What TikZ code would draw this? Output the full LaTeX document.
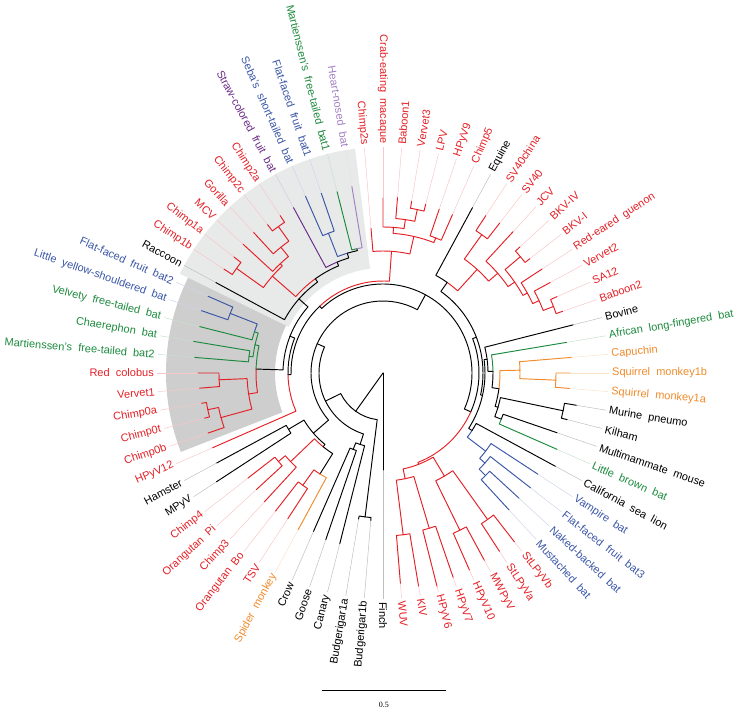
\documentclass[tikz,border=0pt]{standalone}
\usepackage{fontspec}
\setmainfont{Liberation Sans}
\newfontfamily\barfont{Liberation Serif}
\definecolor{cred}{RGB}{228,32,38}
\definecolor{cblue}{RGB}{58,86,166}
\definecolor{cgreen}{RGB}{28,138,62}
\definecolor{corange}{RGB}{240,138,42}
\definecolor{cpurple}{RGB}{106,42,134}
\definecolor{clpurple}{RGB}{162,128,196}
\definecolor{shadelight}{RGB}{232,233,233}
\definecolor{shadedark}{RGB}{206,206,206}
\newcommand\wsp{\hspace{0.56em}}
\newcommand\nd[3]{\expandafter\edef\csname na@#1\endcsname{#2}\expandafter\edef\csname nr@#1\endcsname{#3}}
\newcommand\NA[1]{\csname na@#1\endcsname}
\newcommand\NR[1]{\csname nr@#1\endcsname}
\newcommand\br[3][black]{%
  \edef\bpa{\NA{#2}}\edef\bpr{\NR{#2}}\edef\bca{\NA{#3}}\edef\bcr{\NR{#3}}%
  \ifdim\bpr pt=0pt
    \draw[branch,#1] (0pt,0pt) -- (\bca:\bcr pt);%
  \else
    \draw[branch,#1] (\bpa:\bpr pt) arc[start angle=\bpa,end angle=\bca,radius=\bpr pt] -- (\bca:\bcr pt);%
  \fi}
\newcommand\leaf[6]{%
  \pgfmathsetmacro\la{90-(#2-2)*4.7368421}%
  \ifnum#2>40 \pgfmathsetmacro\la{\la+360}\fi
  \nd{#1}{\la}{#3}%
  \draw[faint,#5!25] (\la:#3pt) -- (\la:226pt);%
  \br[#5]{#4}{#1}%
  \ifdim\la pt>89.99pt
    \node[lab,text=#5,rotate=\la+180,anchor=east] (#1) at (\la:229pt) {#6};%
  \else
    \node[lab,text=#5,rotate=\la,anchor=west] (#1) at (\la:229pt) {#6};%
  \fi}
\tikzset{
  branch/.style={line width=0.95pt,line cap=round,line join=round},
  faint/.style={line width=0.5pt},
  lab/.style={font=\fontsize{11}{13}\selectfont,inner sep=0pt}
}
\begin{document}
\begin{tikzpicture}
\useasboundingbox (-383pt,-339pt) rectangle (356pt,373pt);
% shaded clades
\fill[shadelight] (97.1:105pt) arc[start angle=97.1,end angle=153.95,radius=105pt] -- (153.95:226pt) arc[start angle=153.95,end angle=97.1,radius=226pt] -- cycle;
\fill[shadedark] (153.95:108pt) arc[start angle=153.95,end angle=201.32,radius=108pt] -- (201.32:217pt) arc[start angle=201.32,end angle=153.95,radius=217pt] -- cycle;
% internal nodes: angle, radius
\nd{root}{270}{0}
\nd{N1}{234.45}{47}
\nd{N2}{206}{64}
\nd{C1}{156}{72}
\nd{B3}{252.24}{75}
\nd{GC}{248.68}{82}
\nd{BUD}{262.9}{145}
\nd{UP}{61.5}{89}
\nd{LL2}{220.86}{92}
\nd{MH}{210.79}{110}
\nd{L3}{230.92}{95}
\nd{C3P}{223.82}{128}
\nd{CP}{220.26}{137}
\nd{SPR}{238.03}{119}
\nd{R2}{234.48}{138}
\nd{XP}{133.5}{92}
\nd{S1}{181.04}{95}
\nd{DL}{158.4}{100}
\nd{LIGHT}{138.6}{112}
\nd{RS}{125.7}{116}
\nd{REDL}{138.8}{147}
\nd{C1b}{144.47}{180}
\nd{MGC}{133.2}{150}
\nd{GC2}{129.08}{162}
\nd{C2}{125.53}{180}
\nd{SBMH}{112.5}{120}
\nd{BMH}{106.6}{125}
\nd{SF}{111.32}{150}
\nd{MH2}{101.84}{127}
\nd{DARK}{178.22}{127}
\nd{V2}{167.57}{131}
\nd{V1}{162.24}{135}
\nd{BB2}{158.69}{164}
\nd{CM}{172.9}{135}
\nd{RED0}{188.88}{136}
\nd{RV}{182.37}{164}
\nd{C0}{195.39}{168}
\nd{C0at}{191.84}{179}
\nd{X}{86.0}{122}
\nd{W}{77.27}{140}
\nd{Y1}{85.86}{146}
\nd{Y2}{81.71}{155}
\nd{Y3}{78.16}{167}
\nd{V}{68.68}{145}
\nd{Q}{-23.86}{96}
\nd{EAC}{20.97}{100}
\nd{E1}{54.66}{111}
\nd{S}{47.74}{140}
\nd{SV}{54.47}{170}
\nd{T}{41.0}{152}
\nd{U}{34.63}{160}
\nd{BK}{40.26}{180}
\nd{G1}{29.01}{165}
\nd{G2}{24.87}{172}
\nd{G3}{21.32}{183}
\nd{AC}{-12.65}{102}
\nd{A1}{7.55}{105}
\nd{A2}{0.89}{110}
\nd{A3}{-7.7}{117}
\nd{O}{1.18}{137}
\nd{Sq}{-2.37}{173}
\nd{B}{-16.58}{120}
\nd{MK}{-11.84}{184}
\nd{MM}{-21.32}{127}
\nd{CB}{-32.86}{106}
\nd{BL1}{-37.3}{129}
\nd{BL2}{-41.45}{136}
\nd{BL3}{-45.0}{145}
\nd{H0}{-68.68}{98}
\nd{HL}{-78.15}{108}
\nd{WK}{-82.9}{163}
\nd{H67}{-73.42}{162}
\nd{HR}{-59.21}{120}
\nd{HM}{-63.95}{175}
\nd{St}{-54.47}{180}
% internal branches
\br{root}{N1}
\br{N1}{N2} \br{N1}{BUD}
\br{N2}{C1} \br{N2}{B3} \br{B3}{GC}
\br{C1}{UP} \br{C1}{LL2}
\br{LL2}{MH} \br{LL2}{L3} \br[cred]{L3}{C3P} \br{L3}{SPR} \br[cred]{C3P}{CP} \br[cred]{SPR}{R2}
\br{UP}{XP} \br{UP}{Q}
\br[cred]{XP}{X} \br{XP}{S1}
\br{S1}{DL} \br{DL}{LIGHT} \br{DL}{DARK}
\br{LIGHT}{RS} \br[cred]{RS}{REDL} \br{RS}{SBMH}
\br[cred]{REDL}{C1b} \br[cred]{REDL}{MGC} \br[cred]{MGC}{GC2} \br[cred]{GC2}{C2}
\br{SBMH}{BMH} \br[cblue]{BMH}{SF} \br{BMH}{MH2}
\br[cgreen]{DARK}{V2} \br[cred]{DARK}{RED0}
\br[cgreen]{V2}{V1} \br[cgreen]{V2}{CM} \br[cblue]{V1}{BB2}
\br[cred]{RED0}{RV} \br[cred]{RED0}{C0} \br[cred]{C0}{C0at}
\br[cred]{X}{W} \br[cred]{W}{Y1} \br[cred]{W}{V} \br[cred]{Y1}{Y2} \br[cred]{Y2}{Y3}
\br{Q}{EAC} \br[cred]{Q}{H0}
\br{EAC}{E1} \br{EAC}{AC}
\br[cred]{E1}{S} \br[cred]{S}{SV} \br[cred]{S}{T} \br[cred]{T}{U} \br[cred]{U}{BK} \br[cred]{U}{G1} \br[cred]{G1}{G2} \br[cred]{G2}{G3}
\br{AC}{A1} \br{AC}{CB} \br{A1}{A2} \br{A2}{A3} \br[corange]{A3}{O} \br{A3}{B} \br[corange]{O}{Sq} \br{B}{MK} \br{B}{MM}
\br[cblue]{CB}{BL1} \br[cblue]{BL1}{BL2} \br[cblue]{BL2}{BL3}
\br[cred]{H0}{HL} \br[cred]{H0}{HR} \br[cred]{HL}{WK} \br[cred]{HL}{H67} \br[cred]{HR}{HM} \br[cred]{HR}{St}
% leaves: name, index, tip radius, parent, colour, label
\leaf{chimpIIs}{1}{145}{X}{cred}{Chimp2s}
\leaf{macaque}{2}{175}{Y1}{cred}{Crab-eating\wsp macaque}
\leaf{baboonI}{3}{176}{Y2}{cred}{Baboon1}
\leaf{vervetIII}{4}{174}{Y3}{cred}{Vervet3}
\leaf{lpv}{5}{174}{Y3}{cred}{LPV}
\leaf{hpyvIX}{6}{173}{V}{cred}{HPyV9}
\leaf{chimpV}{7}{173}{V}{cred}{Chimp5}
\leaf{equine}{8}{188}{E1}{black}{Equine}
\leaf{svchina}{9}{188}{SV}{cred}{SV40china}
\leaf{sv}{10}{190}{SV}{cred}{SV40}
\leaf{jcv}{11}{192}{T}{cred}{JCV}
\leaf{bkvIV}{12}{186}{BK}{cred}{BKV-IV}
\leaf{bkvI}{13}{186}{BK}{cred}{BKV-I}
\leaf{guenon}{14}{190}{G1}{cred}{Red-eared\wsp guenon}
\leaf{vervetII}{15}{190}{G2}{cred}{Vervet2}
\leaf{saXII}{16}{190}{G3}{cred}{SA12}
\leaf{baboonII}{17}{190}{G3}{cred}{Baboon2}
\leaf{bovine}{18}{196}{A1}{black}{Bovine}
\leaf{african}{19}{186}{A2}{cgreen}{African\wsp long-fingered\wsp bat}
\leaf{capuchin}{20}{189}{O}{corange}{Capuchin}
\leaf{sqIb}{21}{187}{Sq}{corange}{Squirrel\wsp monkey1b}
\leaf{sqIa}{22}{187}{Sq}{corange}{Squirrel\wsp monkey1a}
\leaf{murine}{23}{196}{MK}{black}{Murine\wsp pneumo}
\leaf{kilham}{24}{190}{MK}{black}{Kilham}
\leaf{multimam}{25}{184}{MM}{black}{Multimammate\wsp mouse}
\leaf{littlebrown}{26}{190}{MM}{cgreen}{Little\wsp brown\wsp bat}
\leaf{sealion}{27}{196}{CB}{black}{California\wsp sea\wsp lion}
\leaf{vampire}{28}{185}{BL1}{cblue}{Vampire\wsp bat}
\leaf{ffIII}{29}{187}{BL2}{cblue}{Flat-faced\wsp fruit\wsp bat3}
\leaf{naked}{30}{185}{BL3}{cblue}{Naked-backed\wsp bat}
\leaf{mustached}{31}{186}{BL3}{cblue}{Mustached\wsp bat}
\leaf{stlb}{32}{214}{St}{cred}{StLPyVb}
\leaf{stla}{33}{213}{St}{cred}{StLPyVa}
\leaf{mwpyv}{34}{213}{HM}{cred}{MWPyV}
\leaf{hpyvX}{35}{215}{HM}{cred}{HPyV10}
\leaf{hpyvVII}{36}{216}{H67}{cred}{HPyV7}
\leaf{hpyvVI}{37}{220}{H67}{cred}{HPyV6}
\leaf{kiv}{38}{216}{WK}{cred}{KIV}
\leaf{wuv}{39}{211}{WK}{cred}{WUV}
\leaf{finch}{40}{97}{root}{black}{Finch}
\leaf{budIb}{41}{148}{BUD}{black}{Budgerigar1b}
\leaf{budIa}{42}{148}{BUD}{black}{Budgerigar1a}
\leaf{canary}{43}{176}{B3}{black}{Canary}
\leaf{goose}{44}{176}{GC}{black}{Goose}
\leaf{crow}{45}{173}{GC}{black}{Crow}
\leaf{spider}{46}{178}{SPR}{corange}{Spider\wsp monkey}
\leaf{tsv}{47}{174}{R2}{cred}{TSV}
\leaf{orangbo}{48}{175}{R2}{cred}{Orangutan\wsp Bo}
\leaf{chimpIII}{49}{175}{C3P}{cred}{Chimp3}
\leaf{orangpi}{50}{172}{CP}{cred}{Orangutan\wsp Pi}
\leaf{chimpIV}{51}{171}{CP}{cred}{Chimp4}
\leaf{mpyv}{52}{199}{MH}{black}{MPyV}
\leaf{hamster}{53}{189}{MH}{black}{Hamster}
\leaf{hpyvXII}{54}{186}{S1}{cred}{HPyV12}
\leaf{chimp0b}{55}{185}{C0}{cred}{Chimp0b}
\leaf{chimp0t}{56}{184}{C0at}{cred}{Chimp0t}
\leaf{chimp0a}{57}{184}{C0at}{cred}{Chimp0a}
\leaf{vervetI}{58}{184}{RV}{cred}{Vervet1}
\leaf{colobus}{59}{185}{RV}{cred}{Red\wsp colobus}
\leaf{martII}{60}{189}{CM}{cgreen}{Martienssen's\wsp free-tailed\wsp bat2}
\leaf{chaerephon}{61}{192}{CM}{cgreen}{Chaerephon\wsp bat}
\leaf{velvety}{62}{189}{V1}{cgreen}{Velvety\wsp free-tailed\wsp bat}
\leaf{yellow}{63}{192}{BB2}{cblue}{Little\wsp yellow-shouldered\wsp bat}
\leaf{ffII}{64}{191}{BB2}{cblue}{Flat-faced\wsp fruit\wsp bat2}
\leaf{raccoon}{65}{190}{LIGHT}{black}{Raccoon}
\leaf{chimpIb}{66}{190}{C1b}{cred}{Chimp1b}
\leaf{chimpIa}{67}{189}{C1b}{cred}{Chimp1a}
\leaf{mcv}{68}{190}{MGC}{cred}{MCV}
\leaf{gorilla}{69}{191}{GC2}{cred}{Gorilla}
\leaf{chimpIIc}{70}{188}{C2}{cred}{Chimp2c}
\leaf{chimpIIa}{71}{188}{C2}{cred}{Chimp2a}
\leaf{straw}{72}{188}{SBMH}{cpurple}{Straw-colored\wsp fruit\wsp bat}
\leaf{seba}{73}{193}{SF}{cblue}{Seba's\wsp short-tailed\wsp bat}
\leaf{ffI}{74}{190}{SF}{cblue}{Flat-faced\wsp fruit\wsp bat1}
\leaf{martI}{75}{187}{MH2}{cgreen}{Martienssen's\wsp free-tailed\wsp bat1}
\leaf{heart}{76}{189}{MH2}{clpurple}{Heart-nosed\wsp bat}
% scale bar
\coordinate (sbL) at (-61pt,-317pt);
\coordinate (sbR) at (63pt,-317pt);
\draw[line width=0.6pt] (sbL) -- (sbR);
\node[font=\barfont\fontsize{8}{9}\selectfont,inner sep=0pt] (sblab) at (1pt,-332pt) {0.5};
\end{tikzpicture}
\end{document}
